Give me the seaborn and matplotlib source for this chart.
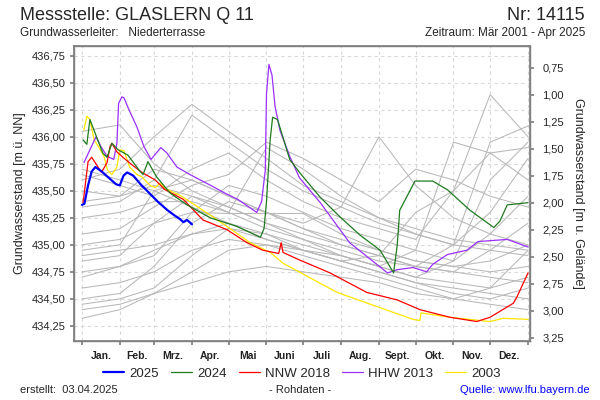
import numpy as np
import pandas as pd
import matplotlib
matplotlib.use('Agg')
import matplotlib.pyplot as plt
import seaborn as sns

# --- data (day of year, water level m ü. NN) ---
month_starts = [0, 31, 59, 90, 120, 151, 181, 212, 243, 273, 304, 334, 365]
month_labels = ['Jan.', 'Feb.', 'Mrz.', 'Apr.', 'Mai', 'Juni', 'Juli', 'Aug.',
                'Sept.', 'Okt.', 'Nov.', 'Dez.']
level_ticks = [434.25, 434.50, 434.75, 435.00, 435.25, 435.50, 435.75,
               436.00, 436.25, 436.50, 436.75]
depth_ticks = [0.75, 1.00, 1.25, 1.50, 1.75, 2.00, 2.25, 2.50, 2.75, 3.00, 3.25]
ground_level = 437.39

days_2025 = [0, 2, 5, 8, 11, 16, 22, 28, 31, 34, 37, 42, 48, 55, 62, 70, 76, 80, 83, 86, 90]
level_2025 = [435.37, 435.38, 435.55, 435.68, 435.72, 435.68, 435.62, 435.56, 435.55, 435.64,
              435.67, 435.64, 435.56, 435.48, 435.40, 435.32, 435.27, 435.24, 435.21, 435.23, 435.19]

days_2024 = [1, 4, 6.5, 17, 20.5, 24.5, 29.5, 37.6, 47.5, 50, 54, 61, 72, 86, 105, 127, 146,
             149, 151, 154, 156, 160, 170, 178, 195, 211, 227.5, 244, 255, 258, 260, 272.5,
             287, 299, 317.5, 337, 342, 348, 365]
level_2024 = [435.97, 435.93, 436.16, 435.85, 435.81, 435.94, 435.88, 435.83, 435.68, 435.65,
              435.77, 435.63, 435.48, 435.37, 435.25, 435.17, 435.07, 435.15, 435.40, 435.97,
              436.18, 436.16, 435.79, 435.67, 435.44, 435.26, 435.09, 434.95, 434.74, 435.00,
              435.32, 435.59, 435.59, 435.51, 435.32, 435.16, 435.22, 435.37, 435.39]

days_2018 = [0.8, 1.6, 5, 8, 12, 16, 20.5, 23, 24.5, 28.6, 33.5, 41, 49, 60, 68, 83, 99,
             118.7, 135, 148, 161, 163, 164.5, 178, 203, 233, 258, 276.6, 301, 323, 334,
             353, 356, 365]
level_2018 = [435.39, 435.45, 435.77, 435.81, 435.74, 435.67, 435.76, 435.91, 435.94, 435.86,
              435.81, 435.74, 435.67, 435.60, 435.51, 435.42, 435.23, 435.14, 435.02, 434.95,
              434.92, 435.02, 434.93, 434.86, 434.74, 434.56, 434.49, 434.40, 434.33, 434.29,
              434.33, 434.46, 434.52, 434.74]

days_2013 = [1.6, 11.5, 15.5, 20.5, 26, 28.6, 30, 32.7, 34.4, 38.5, 45, 50.7, 56.5, 64.6,
             69.5, 77.7, 88.4, 107, 115, 127.6, 143, 147, 150, 151, 153, 155.5, 158, 162,
             170, 178, 195, 219, 250, 258, 271, 282, 287, 299, 315, 324, 348, 365]
level_2013 = [435.76, 436.00, 435.91, 435.82, 435.79, 435.94, 436.31, 436.37, 436.36, 436.25,
              436.09, 435.91, 435.79, 435.90, 435.85, 435.72, 435.65, 435.54, 435.49, 435.42,
              435.30, 435.40, 435.69, 436.40, 436.67, 436.57, 436.28, 436.06, 435.82, 435.62,
              435.39, 435.02, 434.74, 434.77, 434.79, 434.75, 434.82, 434.91, 434.95, 435.03,
              435.05, 434.98]

days_2003 = [1.6, 4, 6.5, 10, 14, 18, 21, 24.5, 28.6, 31, 34.4, 39, 45, 49, 55.6, 60, 64,
             68, 80, 99, 118.7, 137.5, 154, 164.5, 208.7, 241, 271, 276.6, 277.4, 301, 334,
             344.5, 365]
level_2003 = [436.06, 436.19, 436.16, 435.97, 435.90, 435.82, 435.69, 435.65, 435.72, 435.88,
              435.87, 435.72, 435.65, 435.63, 435.55, 435.53, 435.57, 435.52, 435.46, 435.32,
              435.17, 435.02, 434.93, 434.83, 434.56, 434.43, 434.31, 434.30, 434.37, 434.33,
              434.29, 434.32, 434.31]

# other years (grey), monthly values at month_starts
grey_levels = [
    [435.70, 435.60, 435.50, 435.35, 435.20, 435.05, 434.95, 434.85, 434.75, 434.65, 434.60, 434.55, 434.50],
    [435.50, 435.45, 435.55, 435.45, 435.30, 435.15, 435.05, 434.95, 434.85, 434.80, 434.75, 434.95, 435.20],
    [435.25, 435.30, 435.40, 435.40, 435.30, 435.90, 435.70, 435.45, 435.25, 435.10, 435.00, 434.95, 434.90],
    [434.95, 435.00, 435.50, 435.60, 435.45, 435.30, 435.20, 435.35, 436.00, 435.55, 435.25, 435.10, 435.00],
    [434.85, 434.90, 435.20, 435.45, 435.35, 435.20, 435.05, 434.90, 434.80, 434.70, 434.85, 435.60, 435.95],
    [434.70, 434.80, 434.95, 435.10, 435.20, 435.10, 434.95, 434.85, 434.75, 434.65, 434.55, 434.50, 434.60],
    [434.50, 434.55, 434.80, 435.20, 435.40, 435.30, 435.15, 435.00, 434.90, 434.80, 435.00, 435.95, 436.10],
    [434.45, 434.50, 434.60, 434.90, 435.15, 435.05, 434.95, 434.90, 434.80, 434.95, 435.95, 435.85, 435.90],
    [434.32, 434.40, 434.55, 434.75, 434.95, 435.00, 434.90, 434.80, 434.70, 434.60, 434.50, 434.45, 434.40],
    [436.05, 436.11, 435.75, 435.50, 435.35, 435.20, 435.10, 435.00, 434.90, 434.80, 434.75, 434.70, 434.65],
    [435.60, 435.70, 436.00, 436.30, 436.05, 435.80, 435.55, 435.40, 435.25, 435.15, 435.05, 435.00, 434.95],
    [435.35, 435.40, 435.60, 436.20, 435.95, 435.70, 435.50, 435.35, 435.20, 435.10, 435.00, 435.30, 435.80],
    [435.10, 435.15, 435.35, 435.55, 435.65, 435.95, 435.80, 435.60, 435.40, 435.70, 435.60, 435.45, 435.35],
    [434.60, 434.65, 434.75, 434.95, 435.05, 435.00, 434.95, 434.85, 434.90, 435.30, 435.50, 436.39, 436.00],
    [434.90, 434.95, 435.00, 435.10, 435.15, 435.10, 435.00, 434.90, 434.80, 434.70, 434.65, 434.60, 434.70],
    [435.00, 435.05, 435.20, 435.30, 435.29, 435.29, 435.29, 435.10, 434.95, 434.85, 434.80, 434.75, 434.80],
    [434.75, 434.80, 434.90, 435.30, 435.55, 435.45, 435.30, 435.15, 435.05, 434.95, 434.85, 435.10, 435.45],
    [435.40, 435.45, 435.70, 435.60, 435.45, 435.30, 435.15, 435.05, 434.95, 434.85, 434.80, 434.85, 435.00],
    [434.40, 434.45, 434.55, 434.65, 434.75, 434.80, 434.75, 434.70, 434.65, 434.55, 434.50, 434.60, 434.95],
    [435.65, 435.55, 435.45, 435.70, 435.85, 435.60, 435.40, 435.25, 435.15, 435.05, 435.50, 435.85, 435.60],
]

# --- style ---
sns.set_theme(style='white')
plt.rcParams['font.family'] = ['Liberation Sans', 'DejaVu Sans']

fig = plt.figure(figsize=(6, 4), dpi=100)
ax = fig.add_axes([74/600, 1-341/400, 456/600, 295/400])

grey_df = pd.DataFrame({
    'day': month_starts * len(grey_levels),
    'level': [v for row in grey_levels for v in row],
    'year': np.repeat(np.arange(len(grey_levels)), len(month_starts)),
})
sns.lineplot(data=grey_df, x='day', y='level', units='year', estimator=None,
             color='#b8b8b8', lw=0.75, ax=ax, legend=False)

series = [
    ('2003', days_2003, level_2003, '#ffe600', 0.9),
    ('HHW 2013', days_2013, level_2013, '#9b30ff', 0.9),
    ('NNW 2018', days_2018, level_2018, '#ff0000', 0.9),
    ('2024', days_2024, level_2024, '#1e7b1e', 0.9),
    ('2025', days_2025, level_2025, '#0000ff', 1.6),
]
for name, d, l, c, w in series:
    sns.lineplot(x=d, y=l, color=c, lw=w, ax=ax, label=name, sort=False)

ax.set_xlim(-6.5, 366.6)
ax.set_ylim(434.11, 436.84)
ax.set_xlabel('')
ax.set_ylabel('Grundwasserstand [m ü. NN]', fontsize=9)

ax.set_xticks(month_starts)
ax.set_xticklabels([])
mids = [(a + b) / 2 for a, b in zip(month_starts[:-1], month_starts[1:])]
ax.set_xticks(mids, minor=True)
ax.set_xticklabels(month_labels, minor=True, fontsize=7.5, fontweight='bold', color='#222222')
ax.tick_params(axis='x', which='major', length=3, color='#808080', bottom=True)
ax.tick_params(axis='x', which='minor', length=0, pad=7)

ax.set_yticks(level_ticks)
ax.set_yticklabels([f'{v:.2f}'.replace('.', ',') for v in level_ticks], fontsize=8)
ax.tick_params(axis='y', length=3, color='#808080', left=True, pad=3)

ax.grid(True, which='major', ls=(0, (3, 3)), color='#d8d8d8', lw=0.8)
for s in ax.spines.values():
    s.set_color('#808080')
    s.set_linewidth(1.0)

ax2 = ax.twinx()
ax2.set_ylim(ground_level - 434.11, ground_level - 436.84)
ax2.set_yticks(depth_ticks)
ax2.set_yticklabels([f'{v:.2f}'.replace('.', ',') for v in depth_ticks], fontsize=8)
ax2.tick_params(axis='y', length=3, color='#808080', right=True, pad=6)
ax2.set_ylabel('Grundwasserstand [m u. Gelände]', rotation=270, labelpad=14, fontsize=9)
ax2.grid(False)
for s in ax2.spines.values():
    s.set_color('#808080')

handles, labels = ax.get_legend_handles_labels()
order = [4, 3, 2, 1, 0]
ax.legend([handles[i] for i in order], [labels[i] for i in order], ncol=5,
          loc='center', bbox_to_anchor=(0.5, -0.11), frameon=False, fontsize=9.5,
          handlelength=1.6, handletextpad=0.4, columnspacing=0.9)

# header / footer
fig.text(20/600, 1-15/400, 'Messstelle: GLASLERN Q 11', fontsize=13, va='center', ha='left')
fig.text(585/600, 1-15/400, 'Nr: 14115', fontsize=13, va='center', ha='right')
fig.text(20/600, 1-33/400, 'Grundwasserleiter:   Niederterrasse', fontsize=8.5, va='center', ha='left')
fig.text(585/600, 1-33/400, 'Zeitraum: Mär 2001 - Apr 2025', fontsize=8.5, va='center', ha='right')
fig.text(20/600, 1-390/400, 'erstellt:  03.04.2025', fontsize=8, va='center', ha='left')
fig.text(300/600, 1-390/400, '- Rohdaten -', fontsize=8, va='center', ha='center')
fig.text(590/600, 1-390/400, 'Quelle: www.lfu.bayern.de', fontsize=8, va='center', ha='right', color='#0000ff')

plt.savefig('out.png', dpi=100)
plt.close()
